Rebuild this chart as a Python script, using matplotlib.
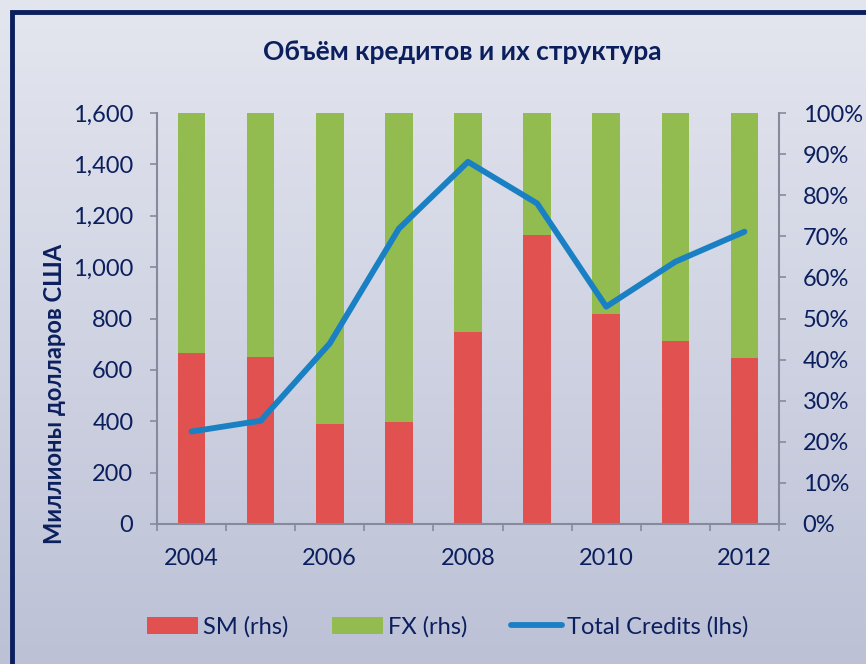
import numpy as np
import matplotlib
matplotlib.use("Agg")
import matplotlib.pyplot as plt
from matplotlib.patches import Rectangle
from matplotlib.ticker import FuncFormatter, FixedLocator

years = ["2004", "2005", "2006", "2007", "2008", "2009", "2010", "2011", "2012"]
sm_share = [41.7, 40.7, 24.4, 24.9, 46.8, 70.4, 51.2, 44.6, 40.5]
fx_share = [100 - v for v in sm_share]
total_credits = [360, 402, 703, 1150, 1410, 1248, 846, 1021, 1138]

navy = "#0b1f5e"
red = "#e05150"
green = "#92bb50"
blue = "#1a80c4"
tick_grey = "#868a9c"

plt.rcParams["font.family"] = ["Lato", "DejaVu Sans"]

fig = plt.figure(figsize=(8.66, 6.64), dpi=100)

# background gradient + dark frame
bg = fig.add_axes([0, 0, 1, 1], zorder=-10)
grad = np.linspace(0, 1, 256).reshape(-1, 1)
top = np.array([0xe4, 0xe6, 0xef]) / 255
bot = np.array([0xbc, 0xc1, 0xd6]) / 255
img = top + (bot - top) * grad[:, :, None]
bg.imshow(img, aspect="auto", extent=[0, 1, 0, 1], origin="upper")
bg.add_patch(Rectangle((11.5 / 866, -0.05), 1.0, 1 - 12 / 664 + 0.05,
                       fill=False, edgecolor=navy, linewidth=3.5))
bg.set_xlim(0, 1)
bg.set_ylim(0, 1)
bg.axis("off")

ax2 = fig.add_axes([157 / 866, 1 - 524 / 664, 622 / 866, 411 / 664])
ax = ax2.twinx()
ax2.yaxis.tick_right()

x = np.arange(len(years))
ax2.bar(x, sm_share, width=0.4, color=red, label="SM (rhs)")
ax2.bar(x, fx_share, width=0.4, bottom=sm_share, color=green, label="FX (rhs)")
ax2.set_ylim(0, 100)
ax2.set_yticks(np.arange(0, 101, 10))
ax2.yaxis.set_major_formatter(FuncFormatter(lambda v, p: f"{v:.0f}%"))

ax.plot(x, total_credits, color=blue, linewidth=4.2, label="Total Credits (lhs)",
        solid_capstyle="round")
ax.set_ylim(0, 1600)
ax.set_yticks(np.arange(0, 1601, 200))
ax.yaxis.set_major_formatter(FuncFormatter(lambda v, p: f"{v:,.0f}"))
ax.yaxis.tick_left()

ax.set_zorder(ax2.get_zorder() + 1)
ax.patch.set_visible(False)
ax2.patch.set_visible(False)

ax2.set_xlim(-0.5, len(years) - 0.5)
ax2.set_xticks(x[::2])
ax2.set_xticklabels(years[::2])
ax2.xaxis.set_minor_locator(FixedLocator(np.arange(-0.5, len(years), 1)))
ax2.tick_params(axis="x", which="major", length=0, pad=17, labelsize=17, labelcolor=navy)
ax2.tick_params(axis="x", which="minor", length=5, color=tick_grey, width=1.2)

for a in (ax, ax2):
    for s in a.spines.values():
        s.set_visible(False)
for a, side in ((ax2, "bottom"), (ax, "left"), (ax2, "right")):
    a.spines[side].set_visible(True)
    a.spines[side].set_color(tick_grey)
    a.spines[side].set_linewidth(1.5)

ax.tick_params(axis="y", length=5, width=1.2, color=tick_grey, labelsize=17,
               labelcolor=navy, pad=12)
ax2.tick_params(axis="y", length=5, width=1.2, color=tick_grey, labelsize=17,
                labelcolor=navy, pad=12)

fig.text(55 / 866, 1 - 394 / 664, "Миллионы долларов США", rotation=90, ha="center",
         va="center", fontsize=17, fontweight="bold", color=navy)
fig.text(462 / 866, 1 - 52 / 664, "Объём кредитов и их структура", ha="center", va="center",
         fontsize=19, fontweight="bold", color=navy)

h1, l1 = ax2.get_legend_handles_labels()
h2, l2 = ax.get_legend_handles_labels()
fig.legend(h1 + h2, l1 + l2, loc="center", bbox_to_anchor=(0.517, 1 - 627 / 664), ncol=3,
           frameon=False, fontsize=17, labelcolor=navy, handlelength=2.16,
           handletextpad=0.2, columnspacing=1.85)

fig.savefig("out.png", dpi=100)
